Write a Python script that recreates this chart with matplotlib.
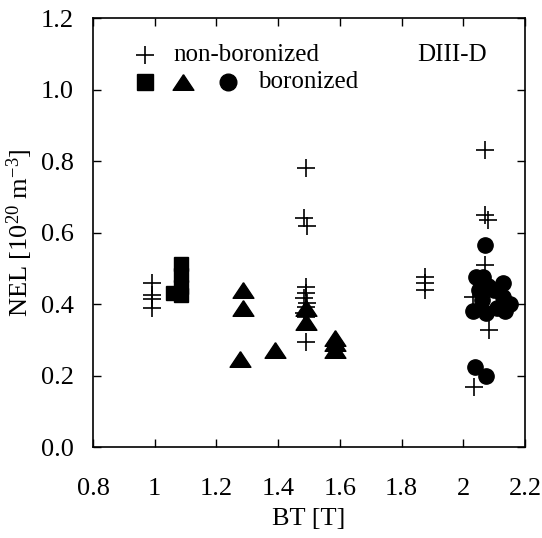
import matplotlib
matplotlib.use("Agg")
import matplotlib.pyplot as plt

plt.rcParams['font.family'] = ['Liberation Serif', 'DejaVu Serif']
plt.rcParams['mathtext.default'] = 'regular'

# non-boronized (plus markers)
plus_x = [0.99, 0.99, 0.99, 0.99,
          1.49, 1.485, 1.495, 1.49, 1.49, 1.485, 1.495, 1.49, 1.485, 1.49, 1.49,
          1.875, 1.875, 1.875,
          2.07, 2.07, 2.08, 2.07, 2.03, 2.083, 2.035]
plus_y = [0.46, 0.425, 0.414, 0.389,
          0.78, 0.64, 0.618, 0.448, 0.431, 0.417, 0.403, 0.392, 0.375, 0.364, 0.294,
          0.475, 0.46, 0.44,
          0.83, 0.65, 0.635, 0.51, 0.42, 0.327, 0.168]

# boronized: squares
sq_x = [1.086, 1.086, 1.086, 1.086, 1.06]
sq_y = [0.512, 0.481, 0.448, 0.425, 0.43]

# boronized: triangles
tri_x = [1.285, 1.285, 1.276, 1.39, 1.49, 1.49, 1.585, 1.585, 1.585]
tri_y = [0.44, 0.389, 0.246, 0.271, 0.39, 0.35, 0.305, 0.29, 0.271]

# boronized: circles
circ_x = [2.07, 2.04, 2.065, 2.13, 2.13, 2.135, 2.03, 2.06, 2.075, 2.05,
          2.11, 2.10, 2.15, 2.08, 2.038, 2.073]
circ_y = [0.565, 0.475, 0.475, 0.46, 0.42, 0.38, 0.38, 0.41, 0.375, 0.44,
          0.39, 0.44, 0.40, 0.45, 0.224, 0.20]

xticks = [0.8, 1.0, 1.2, 1.4, 1.6, 1.8, 2.0, 2.2]
xticklabels = ['0.8', '1', '1.2', '1.4', '1.6', '1.8', '2', '2.2']
yticks = [0.0, 0.2, 0.4, 0.6, 0.8, 1.0, 1.2]
yticklabels = ['0.0', '0.2', '0.4', '0.6', '0.8', '1.0', '1.2']

# flattened triangle marker
tri_marker = [(0, 0.75), (-1, -0.75), (1, -0.75), (0, 0.75)]

fig = plt.figure(figsize=(5.42, 5.38), dpi=100)
ax = fig.add_axes([0.1716, 0.169, 0.797, 0.7975])

ax.plot(plus_x, plus_y, ls='none', marker='+', ms=13, mew=1.2, color='black')
ax.plot(sq_x, sq_y, ls='none', marker='s', ms=10.5, color='black')
ax.plot(tri_x, tri_y, ls='none', marker=tri_marker, ms=15, color='black')
ax.plot(circ_x, circ_y, ls='none', marker='o', ms=11, color='black')

ax.set_xlim(0.8, 2.2)
ax.set_ylim(0.0, 1.2)
ax.set_xticks(xticks)
ax.set_xticklabels(xticklabels)
ax.set_yticks(yticks)
ax.set_yticklabels(yticklabels)
ax.tick_params(direction='in', top=True, right=True, length=6, width=1,
               labelsize=19)
ax.tick_params(axis='x', pad=22)
ax.tick_params(axis='y', pad=14)
for s in ax.spines.values():
    s.set_linewidth(1.2)

ax.set_xlabel('BT [T]', fontsize=19, labelpad=6)
ax.set_ylabel(r'NEL [10$^{20}$ m$^{-3}$]', fontsize=19, labelpad=4)

# legend drawn manually
t = ax.transAxes
ax.plot([0.120], [0.914], transform=t, marker='+', ms=13, mew=1.2, color='black', clip_on=False)
ax.text(0.185, 0.914, 'non-boronized', transform=t, fontsize=18, va='center', ha='left')
ax.text(0.75, 0.914, 'DIII-D', transform=t, fontsize=18, va='center', ha='left')
ax.plot([0.120], [0.851], transform=t, marker='s', ms=12, color='black')
ax.plot([0.208], [0.851], transform=t, marker=tri_marker, ms=15, color='black')
ax.plot([0.3125], [0.851], transform=t, marker='o', ms=12, color='black')
ax.text(0.382, 0.851, 'boronized', transform=t, fontsize=18, va='center', ha='left')

fig.savefig('out.png', dpi=100)
